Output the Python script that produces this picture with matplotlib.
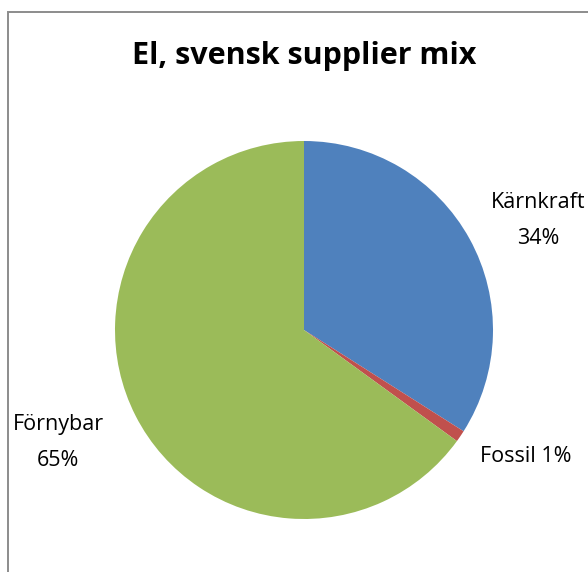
import matplotlib
matplotlib.use("Agg")
import matplotlib.pyplot as plt
from matplotlib.patches import Rectangle

categories = ["Kärnkraft", "Fossil", "Förnybar"]
values = [34, 1, 65]
label_texts = ["Kärnkraft\n34%", "Fossil 1%", "Förnybar\n65%"]
colors = ["#4F81BD", "#C0504D", "#9BBB59"]
title = "El, svensk supplier mix"

W, H = 588, 572
fig = plt.figure(figsize=(W / 100, H / 100), dpi=100)
fig.patch.set_facecolor("white")

# chart frame (extends beyond right and bottom edges)
fig.add_artist(Rectangle((8 / W, -0.05), 1.2, (H - 12) / H + 0.05,
                         transform=fig.transFigure, fill=False,
                         edgecolor="#8c8c8c", linewidth=1.4))

cx, cy, r = 304, 330, 189
ax = fig.add_axes([(cx - r) / W, (H - cy - r) / H, 2 * r / W, 2 * r / H])
ax.pie(values, colors=colors, startangle=90, counterclock=False,
       wedgeprops=dict(linewidth=0))
ax.set_xlim(-1, 1)
ax.set_ylim(-1, 1)
ax.set_aspect("equal")
ax.axis("off")

label_pos = [(1.24, 0.58), (1.172, -0.67), (-1.30, -0.595)]
for txt, (x, y) in zip(label_texts, label_pos):
    ax.text(x, y, txt, ha="center", va="center", fontsize=15.5,
            family="Open Sans", color="black", linespacing=1.9)

fig.text(cx / W, 1 - 56 / H, title, ha="center", va="center",
         fontsize=22, fontweight="bold", family="Open Sans", color="black")

fig.savefig("out.png", dpi=100)
